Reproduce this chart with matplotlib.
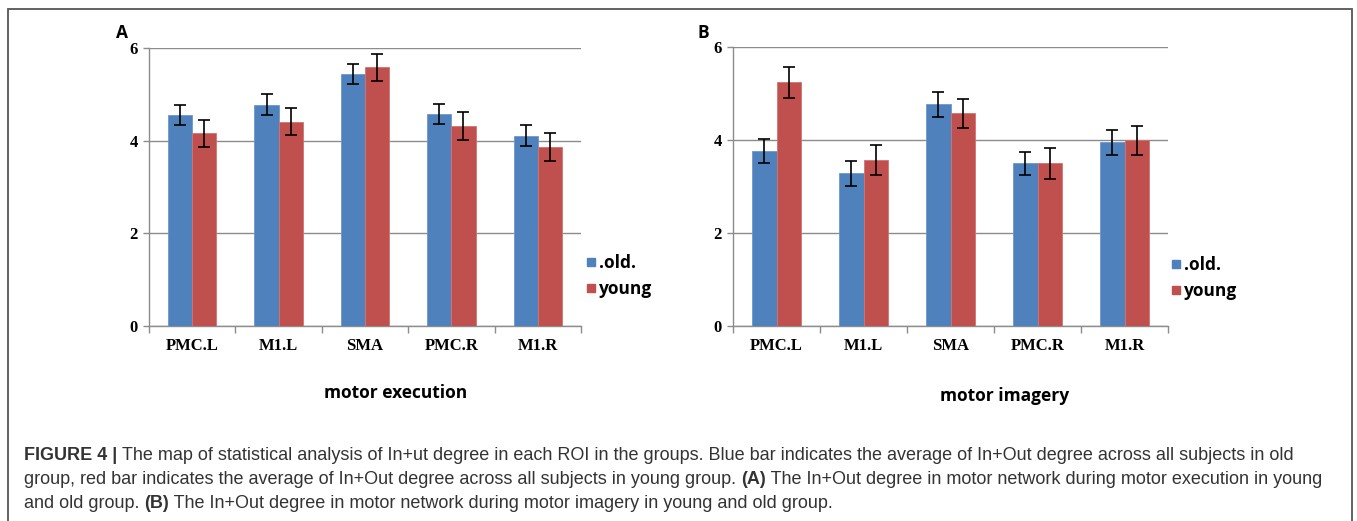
import matplotlib.pyplot as plt
import numpy as np
from matplotlib.patches import Rectangle
from matplotlib.lines import Line2D

# ROI categories
rois = ["PMC.L", "M1.L", "SMA", "PMC.R", "M1.R"]

# panel A: motor execution
exec_old = [4.56, 4.78, 5.44, 4.58, 4.11]
exec_old_err = [0.22, 0.22, 0.22, 0.22, 0.22]
exec_young = [4.16, 4.41, 5.58, 4.32, 3.86]
exec_young_err = [0.29, 0.29, 0.30, 0.30, 0.30]

# panel B: motor imagery
imag_old = [3.77, 3.28, 4.77, 3.50, 3.95]
imag_old_err = [0.26, 0.26, 0.27, 0.25, 0.27]
imag_young = [5.24, 3.57, 4.57, 3.50, 3.99]
imag_young_err = [0.33, 0.32, 0.32, 0.33, 0.32]

yticks = [0, 2, 4, 6]

BLUE = "#4F81BD"
RED = "#C0504D"
GRID = "#8C8C8C"

W, H = 1357, 521
fig = plt.figure(figsize=(W / 100, H / 100), dpi=100)


def px_axes(x0, y0, x1, y1):
    # pixel box (top-left origin) -> figure fraction axes
    return fig.add_axes([x0 / W, 1 - y1 / H, (x1 - x0) / W, (y1 - y0) / H])


def draw_panel(ax, old, old_err, young, young_err, xlabel, label_xy, legend_xy):
    x = np.arange(len(rois))
    bw = 0.28
    ekw = dict(ecolor="black", elinewidth=1.2, capsize=4, capthick=1.2)
    ax.bar(x - bw / 2, old, bw, color=BLUE, edgecolor="#6E97CC", linewidth=0.6,
           yerr=old_err, error_kw=ekw, zorder=3)
    ax.bar(x + bw / 2, young, bw, color=RED, edgecolor="#D27370", linewidth=0.6,
           yerr=young_err, error_kw=ekw, zorder=3)
    ax.set_xlim(-0.5, len(rois) - 0.5)
    ax.set_ylim(0, 6)
    ax.set_yticks(yticks)
    ax.set_yticklabels([str(v) for v in yticks], fontfamily="Liberation Serif",
                       fontweight="bold", fontsize=12)
    ax.yaxis.grid(True, color=GRID, linewidth=1.0, zorder=0)
    ax.set_axisbelow(True)
    # category boundaries get the tick marks, labels go in the middle
    ax.set_xticks(np.arange(len(rois) + 1) - 0.5)
    ax.set_xticklabels([])
    ax.set_xticks(x, minor=True)
    ax.set_xticklabels(rois, minor=True, fontfamily="Liberation Serif",
                       fontweight="bold", fontsize=12)
    ax.tick_params(axis="x", which="major", length=5, color=GRID, width=1)
    ax.tick_params(axis="x", which="minor", length=0, pad=9)
    ax.tick_params(axis="y", length=4, color=GRID, width=1, pad=4)
    for s in ["top", "right"]:
        ax.spines[s].set_visible(False)
    for s in ["left", "bottom"]:
        ax.spines[s].set_color(GRID)
        ax.spines[s].set_linewidth(1.0)
    ax.set_xlabel(xlabel, fontfamily="Open Sans", fontweight="bold", fontsize=12.5,
                  va="center")
    ax.xaxis.set_label_coords(*label_xy)
    handles = [Line2D([], [], marker="s", linestyle="none", color=BLUE, markersize=5.5),
               Line2D([], [], marker="s", linestyle="none", color=RED, markersize=5.5)]
    ax.legend(handles, [".old.", "young"], loc="center left", bbox_to_anchor=legend_xy,
              frameon=False, handlelength=0.4, handletextpad=0.25, labelspacing=0.45,
              borderpad=0, borderaxespad=0,
              prop=dict(family="Open Sans", weight="bold", size=12.5))


axA = px_axes(149, 48, 581, 326)
draw_panel(axA, exec_old, exec_old_err, exec_young, exec_young_err, "motor execution",
           ((396 - 149) / 432, (326 - 393) / 278), ((588 - 149) / 432, (326 - 276) / 278))
axB = px_axes(733, 47, 1168, 326)
draw_panel(axB, imag_old, imag_old_err, imag_young, imag_young_err, "motor imagery",
           ((1005 - 733) / 435, (326 - 396) / 279), ((1173 - 733) / 435, (326 - 278) / 279))

fig.text(122 / W, 1 - 33 / H, "A", fontfamily="Open Sans", fontweight="bold",
         fontsize=12.5, ha="center", va="center")
fig.text(703 / W, 1 - 33 / H, "B", fontfamily="Open Sans", fontweight="bold",
         fontsize=12.5, ha="center", va="center")

# outer frame around the whole figure
fig.patches.append(Rectangle((8 / W, -0.02), (1352 - 8) / W, 1 - 9 / H + 0.02,
                             transform=fig.transFigure, fill=False,
                             edgecolor="#555555", linewidth=1.3))

# caption, written piece by piece so the bold parts sit inline
caption = [
    [("FIGURE 4 | ", "bold"),
     ("The map of statistical analysis of In+ut degree in each ROI in the groups. Blue bar "
      "indicates the average of In+Out degree across all subjects in old", "normal")],
    [("group, red bar indicates the average of In+Out degree across all subjects in young "
      "group. ", "normal"), ("(A)", "bold"),
     (" The In+Out degree in motor network during motor execution in young", "normal")],
    [("and old group. ", "normal"), ("(B)", "bold"),
     (" The In+Out degree in motor network during motor imagery in young and old group.",
      "normal")],
]
line_y = [455, 479, 503]

fig.canvas.draw()
renderer = fig.canvas.get_renderer()
for segs, yy in zip(caption, line_y):
    xpos = 24
    for txt, wt in segs:
        t = fig.text(xpos / W, 1 - yy / H, txt, fontfamily="Liberation Sans",
                     fontweight=wt, fontsize=13, color="#333333", va="center", ha="left")
        bb = t.get_window_extent(renderer)
        xpos += bb.width

fig.savefig("out.png", dpi=100)
